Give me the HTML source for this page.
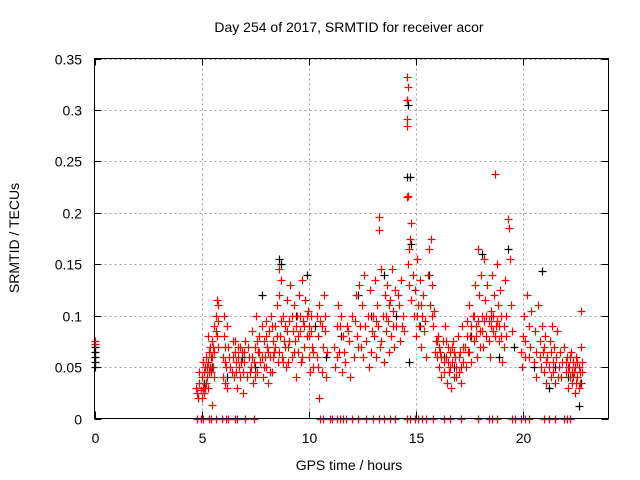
<!DOCTYPE html>
<html><head><meta charset="utf-8"><style>
body{margin:0;background:#fff;}
svg{display:block;font-family:"Liberation Sans",Arial,sans-serif;}
</style></head><body>
<svg id="chart" width="640" height="480">
<text x="349" y="32" font-size="14" text-anchor="middle">Day 254 of 2017, SRMTID for receiver acor</text>
<text x="349" y="470" font-size="14" text-anchor="middle">GPS time / hours</text>
<text transform="translate(19,238) rotate(-90)" font-size="14" text-anchor="middle">SRMTID / TECUs</text>
<g id="grid"></g>
<g id="ticks"></g>
<g id="blk"></g>
<g id="red"></g>
<rect x="94.5" y="58.5" width="514" height="360" fill="none" stroke="#000"/>
</svg>
<script>
const xTicks=[0,5,10,15,20];
const yTicks=[0,0.05,0.1,0.15,0.2,0.25,0.3,0.35];
const yTickLabels=["0","0.05","0.1","0.15","0.2","0.25","0.3","0.35"];
const zeroTimes=[4.8,4.95,5.05,5.35,5.45,5.65,5.95,6.15,6.25,6.55,6.65,7.05,7.45,10.55,10.65,11.0,11.1,11.3,11.45,11.6,11.75,12.0,12.3,12.7,13.0,13.3,13.5,13.8,14.05,14.6,14.75,14.95,15.1,15.3,15.5,15.8,16.3,16.6,17.1,17.9,18.4,18.55,18.8,19.5,19.65,19.9,20.1,20.3,21.0,21.2,21.5,21.9,22.05,22.2];
const blackPts=[[0,0.05],[0,0.055],[0,0.06],[0,0.065],[0,0.07],[5.1,0.035],[5.5,0.05],[6.2,0.04],[6.9,0.06],[7.5,0.05],[7.8,0.12],[8.6,0.155],[8.7,0.15],[9.4,0.1],[9.9,0.14],[10.3,0.09],[10.8,0.06],[11.5,0.08],[12.3,0.12],[12.9,0.1],[13.5,0.14],[14.1,0.1],[14.6,0.31],[14.62,0.305],[14.6,0.235],[14.75,0.235],[14.7,0.055],[14.8,0.17],[15.2,0.09],[15.6,0.14],[16.3,0.06],[16.8,0.05],[17.6,0.08],[18.1,0.16],[18.5,0.1],[18.9,0.06],[19.3,0.165],[19.6,0.07],[20.5,0.05],[20.9,0.143],[21.2,0.03],[21.5,0.05],[22.1,0.04],[22.6,0.012],[22.7,0.035]];
const redPts=[[0,0.075],[0,0.072],
[4.75,0.03],[4.8,0.025],[4.85,0.02],[4.9,0.035],[4.95,0.028],[5.0,0.04],[5.0,0.02],[5.05,0.03],[5.1,0.045],[5.1,0.025],[5.15,0.05],[5.2,0.035],[5.2,0.06],[5.25,0.04],[5.3,0.055],[5.3,0.03],[5.35,0.065],[5.4,0.05],[5.4,0.07],[5.45,0.045],[5.5,0.075],[5.5,0.06],[5.55,0.05],[5.6,0.09],[5.6,0.065],[5.65,0.1],[5.7,0.115],[5.7,0.08],[5.75,0.11],[5.5,0.013],[5.3,0.08],
[6.0,0.04],[6.0,0.06],[6.05,0.1],[6.1,0.035],[6.1,0.07],[6.15,0.05],[6.2,0.03],[6.2,0.09],[6.3,0.06],[6.4,0.045],[6.45,0.075],[6.5,0.04],[6.55,0.065],[6.6,0.055],[6.65,0.03],[6.7,0.07],[6.75,0.05],[6.8,0.04],[6.9,0.065],[6.95,0.025],[7.0,0.055],[7.05,0.075],
[7.1,0.04],[7.2,0.06],[7.3,0.05],[7.35,0.085],[7.4,0.035],[7.5,0.07],[7.55,0.1],[7.6,0.045],[7.65,0.065],[7.7,0.08],[7.75,0.055],[7.8,0.09],[7.85,0.04],[7.9,0.075],[7.95,0.06],[8.0,0.05],[8.0,0.095],[8.05,0.07],[8.1,0.035],[8.15,0.085],[8.2,0.06],[8.25,0.1],[8.3,0.045],[8.35,0.075],[8.4,0.065],[8.45,0.09],[8.5,0.11],[8.55,0.055],[8.6,0.145],[8.6,0.12],[8.65,0.08],[8.7,0.135],[8.75,0.06],[8.8,0.1],[8.85,0.075],[8.9,0.09],[8.95,0.05],[9.0,0.115],[9.05,0.07],[9.1,0.095],[9.15,0.13],[9.2,0.06],[9.25,0.085],[9.3,0.11],[9.35,0.075],[9.4,0.04],[9.45,0.1],[9.5,0.065],[9.55,0.12],[9.6,0.085],[9.65,0.055],[9.7,0.135],[9.75,0.095],[9.8,0.07],[9.85,0.115],[9.9,0.08],[9.95,0.105],[10.0,0.06],[10.0,0.09],[10.05,0.045],[10.1,0.1],[10.15,0.07],[10.2,0.05],
[10.4,0.06],[10.45,0.08],[10.5,0.11],[10.55,0.095],[10.6,0.045],[10.65,0.07],[10.7,0.12],[10.75,0.085],[10.8,0.04],[10.85,0.065],[10.4,0.1],[10.5,0.02],
[11.2,0.07],[11.25,0.05],[11.3,0.09],[11.35,0.11],[11.4,0.065],[11.5,0.1],[11.55,0.045],[11.6,0.08],[11.7,0.055],[11.8,0.09],[11.9,0.075],[11.95,0.04],
[12.0,0.1],[12.1,0.06],[12.2,0.12],[12.25,0.08],[12.3,0.07],[12.35,0.13],[12.4,0.09],[12.5,0.11],[12.55,0.06],[12.6,0.14],[12.7,0.075],[12.75,0.1],[12.8,0.05],[12.85,0.125],[12.9,0.065],[13.0,0.1],[13.05,0.08],[13.1,0.135],[13.15,0.06],[13.2,0.11],[13.25,0.09],[13.3,0.196],[13.3,0.183],[13.35,0.07],[13.4,0.145],[13.45,0.1],[13.5,0.055],[13.55,0.12],[13.6,0.085],[13.65,0.13],[13.7,0.095],[13.75,0.065],[13.8,0.115],[13.85,0.08],[13.9,0.145],[13.95,0.105],[14.0,0.07],[14.05,0.125],[14.1,0.09],[14.2,0.11],[14.25,0.075],[14.3,0.135],[14.4,0.1],[14.45,0.085],
[14.6,0.332],[14.62,0.322],[14.6,0.31],[14.6,0.291],[14.58,0.284],[14.62,0.216],[14.6,0.215],[14.8,0.19],[14.75,0.175],[14.7,0.165],[14.65,0.15],[14.7,0.13],[14.8,0.115],[14.85,0.14],[14.9,0.1],[14.95,0.125],[15.0,0.08],[15.05,0.155],[15.1,0.11],[15.15,0.09],[15.2,0.135],[15.25,0.07],[15.3,0.1],[15.35,0.12],[15.4,0.085],[15.5,0.06],[15.55,0.14],[15.6,0.165],[15.65,0.11],[15.7,0.175],[15.75,0.13],[15.8,0.09],[15.85,0.105],[15.95,0.075],[16.0,0.06],
[16.05,0.08],[16.1,0.05],[16.15,0.065],[16.2,0.04],[16.25,0.075],[16.3,0.055],[16.35,0.09],[16.4,0.06],[16.45,0.035],[16.5,0.07],[16.55,0.045],[16.6,0.065],[16.65,0.03],[16.7,0.055],[16.75,0.075],[16.8,0.04],[16.85,0.06],[16.9,0.05],[16.95,0.08],[17.0,0.045],[17.05,0.065],[17.1,0.035],[17.15,0.09],[17.2,0.055],
[17.3,0.07],[17.35,0.05],[17.4,0.095],[17.45,0.065],[17.5,0.11],[17.55,0.08],[17.6,0.055],[17.65,0.1],[17.7,0.075],[17.75,0.13],[17.8,0.09],[17.85,0.06],[17.9,0.165],[17.95,0.12],[18.0,0.085],[18.05,0.14],[18.1,0.1],[18.15,0.07],[18.2,0.155],[18.25,0.115],[18.3,0.08],[18.35,0.13],[18.4,0.095],[18.45,0.06],[18.5,0.105],[18.55,0.14],[18.6,0.085],[18.65,0.12],[18.7,0.238],[18.75,0.09],[18.8,0.15],[18.85,0.11],[18.9,0.075],[18.95,0.125],[19.0,0.1],[19.05,0.055],[19.1,0.09],[19.15,0.135],[19.2,0.08],[19.3,0.194],[19.35,0.185],[19.4,0.155],[19.45,0.11],[19.5,0.085],
[19.9,0.065],[19.95,0.05],[20.0,0.08],[20.05,0.1],[20.1,0.06],[20.2,0.12],[20.3,0.09],[20.35,0.07],[20.4,0.105],[20.5,0.055],[20.55,0.085],[20.6,0.04],[20.7,0.11],[20.8,0.075],[20.85,0.05],[20.9,0.09],[20.95,0.065],[21.0,0.045],[21.05,0.08],[21.1,0.035],[21.15,0.06],[21.2,0.05],[21.25,0.075],[21.3,0.04],[21.35,0.09],[21.4,0.055],[21.45,0.07],[21.5,0.035],[21.6,0.085],[21.7,0.05],[21.75,0.065],[21.8,0.04],[21.9,0.07],
[22.0,0.045],[22.05,0.06],[22.1,0.03],[22.15,0.05],[22.2,0.04],[22.25,0.065],[22.3,0.035],[22.35,0.055],[22.4,0.045],[22.45,0.025],[22.5,0.06],[22.55,0.04],[22.6,0.05],[22.65,0.035],[22.7,0.07],[22.7,0.105],[22.75,0.045]];
const redPts2=[[4.9,0.045],[5.05,0.055],[5.15,0.03],[5.25,0.05],[5.35,0.045],[5.45,0.06],[5.55,0.07],[5.6,0.04],[5.65,0.085],[5.75,0.095],[5.75,0.07],
[6.05,0.08],[6.1,0.055],[6.25,0.07],[6.35,0.05],[6.45,0.06],[6.55,0.075],[6.6,0.045],[6.7,0.06],[6.8,0.07],[6.85,0.055],[6.95,0.045],[7.0,0.065],
[7.15,0.07],[7.25,0.045],[7.35,0.06],[7.45,0.055],[7.5,0.04],[7.6,0.075],[7.7,0.065],[7.8,0.06],[7.9,0.05],[8.0,0.08],[8.1,0.065],[8.2,0.045],[8.3,0.09],[8.35,0.06],[8.45,0.07],[8.5,0.08],[8.6,0.065],[8.7,0.095],[8.8,0.055],[8.9,0.07],[9.0,0.085],[9.05,0.055],[9.1,0.075],[9.2,0.1],[9.3,0.065],[9.4,0.09],[9.5,0.08],[9.6,0.1],[9.7,0.06],[9.8,0.09],[9.9,0.1],[10.0,0.08],[10.1,0.085],[10.2,0.065],
[10.45,0.05],[10.6,0.09],[10.75,0.1],[11.3,0.06],[11.45,0.09],[11.65,0.065],[11.85,0.085],[12.15,0.095],[12.45,0.07],[12.65,0.09],[12.95,0.085],[13.15,0.095],[13.4,0.075],[13.6,0.1],[13.75,0.11],[13.95,0.09],[14.15,0.12],[14.35,0.09],
[15.05,0.1],[15.25,0.11],[15.45,0.095],[15.75,0.1],[15.9,0.065],[16.0,0.075],[16.1,0.07],[16.2,0.06],[16.3,0.045],[16.4,0.075],[16.5,0.055],[16.6,0.05],[16.7,0.07],[16.8,0.065],[16.9,0.04],[17.0,0.06],[17.1,0.05],[17.2,0.07],
[17.4,0.08],[17.5,0.065],[17.6,0.09],[17.7,0.1],[17.8,0.08],[17.9,0.095],[18.0,0.07],[18.1,0.085],[18.2,0.095],[18.3,0.1],[18.4,0.075],[18.5,0.09],[18.6,0.1],[18.7,0.08],[18.8,0.095],[18.9,0.09],[19.0,0.08],[19.1,0.07],[19.2,0.1],
[20.1,0.075],[20.3,0.06],[20.6,0.065],[20.8,0.06],[21.0,0.07],[21.1,0.055],[21.3,0.065],[21.4,0.045],[21.55,0.06],[21.65,0.04],[21.85,0.055],
[22.0,0.055],[22.1,0.05],[22.2,0.06],[22.3,0.045],[22.35,0.04],[22.45,0.05],[22.5,0.035],[22.55,0.055],[22.6,0.03],[22.65,0.045],[22.75,0.055]];

const X0=94.5,X1=608.5,Y0=418.5,Y1=58.5,XMAX=24,YMAX=0.35;
const sx=t=>X0+(X1-X0)*t/XMAX;
const sy=v=>Y0-(Y0-Y1)*v/YMAX;
const NS="http://www.w3.org/2000/svg";
function mk(tag,attrs,parent){const e=document.createElementNS(NS,tag);for(const k in attrs)e.setAttribute(k,attrs[k]);parent.appendChild(e);return e;}
const grid=document.getElementById('grid'),ticks=document.getElementById('ticks');
const svg=document.getElementById('chart');
xTicks.forEach(t=>{
  const x=Math.round(sx(t))+0.5;
  if(t>0){const g=mk('line',{x1:x,x2:x,y1:Y1,y2:Y0,stroke:'#a0a0a0','stroke-dasharray':'2,3'},grid);
  
  }
  mk('line',{x1:x,x2:x,y1:Y0,y2:Y0-7,stroke:'#000'},ticks);
  mk('line',{x1:x,x2:x,y1:Y1,y2:Y1+7,stroke:'#000'},ticks);
  const l=mk('text',{x:x,y:443,'font-size':14,'text-anchor':'middle'},svg);
  l.textContent=String(t);
  
  
});
yTicks.forEach((v,i)=>{
  const y=Math.round(sy(v))+0.5;
  if(v>0){const g=mk('line',{x1:X0,x2:X1,y1:y,y2:y,stroke:'#a0a0a0','stroke-dasharray':'2,3'},grid);
  
  }
  mk('line',{x1:X0,x2:X0+7,y1:y,y2:y,stroke:'#000'},ticks);
  mk('line',{x1:X1,x2:X1-7,y1:y,y2:y,stroke:'#000'},ticks);
  const l=mk('text',{x:82,y:y+5,'font-size':14,'text-anchor':'end'},svg);
  l.textContent=yTickLabels[i];
  
  
});
function plus(g,t,v,col,name){
  const x=Math.round(sx(t))+0.5,y=Math.round(sy(v))+0.5;
  const p=mk('path',{d:`M${x-4} ${y}H${x+4}M${x} ${y-4}V${y+4}`,stroke:col,'stroke-width':1.2,fill:'none'},g);
  
  
}
const blk=document.getElementById('blk'),red=document.getElementById('red');
blackPts.forEach(p=>plus(blk,p[0],p[1],'#000','black-point'));
redPts.forEach(p=>plus(red,p[0],p[1],'#f00','red-point'));
redPts2.forEach(p=>plus(red,p[0],p[1],'#f00','red-point'));
zeroTimes.forEach(t=>plus(red,t,0,'#f00','zero-point'));
</script>
</body></html>
